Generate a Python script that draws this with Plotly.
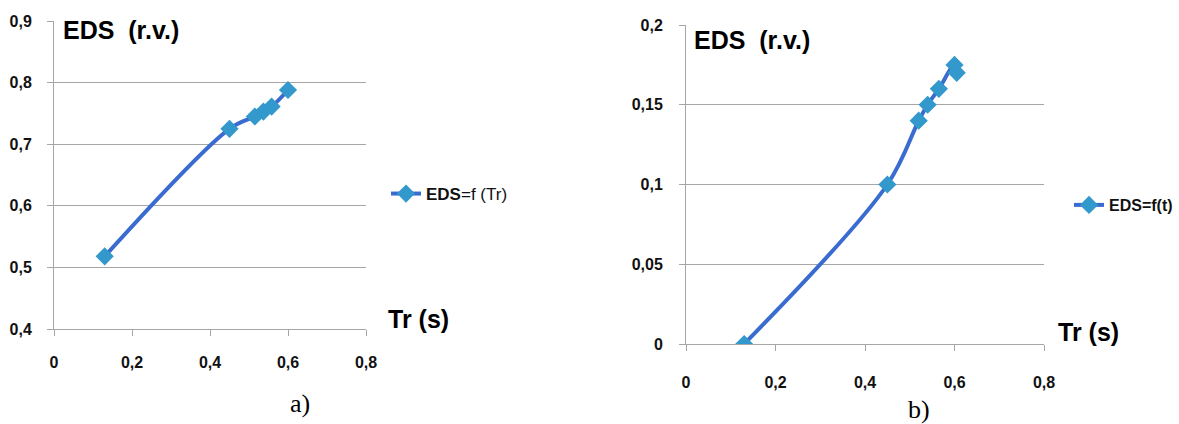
import plotly.graph_objects as go

# --- data -------------------------------------------------------------
tr_a = [0.13, 0.45, 0.515, 0.537, 0.558, 0.60]
eds_a = [0.518, 0.725, 0.745, 0.753, 0.761, 0.788]

tr_b = [0.13, 0.45, 0.52, 0.54, 0.565, 0.60, 0.605]
eds_b = [0.0, 0.10, 0.14, 0.15, 0.16, 0.175, 0.17]

x_ticks = [0, 0.2, 0.4, 0.6, 0.8]
x_labels = ["0", "0,2", "0,4", "0,6", "0,8"]
y_ticks_a = [0.4, 0.5, 0.6, 0.7, 0.8, 0.9]
y_labels_a = ["0,4", "0,5", "0,6", "0,7", "0,8", "0,9"]
y_ticks_b = [0, 0.05, 0.1, 0.15, 0.2]
y_labels_b = ["0", "0,05", "0,1", "0,15", "0,2"]

# --- styling ----------------------------------------------------------
W, H = 1179, 424
LINE = "#3A6BD0"
MARK = "#3399CC"
GRID = "#A6A6A6"
SANS = "Liberation Sans"
SERIF = "Liberation Serif"
TICKFONT = dict(family=SANS, size=16, color="#111111", weight="bold")


def px(x):
    return x / W


def py(y):
    return 1 - y / H


fig = go.Figure()

fig.add_trace(go.Scatter(
    x=tr_a, y=eds_a, mode="lines+markers", name="<b>EDS</b>=f (Tr)",
    line=dict(color=LINE, width=4, shape="spline"),
    marker=dict(symbol="diamond", size=14, color=MARK),
    xaxis="x", yaxis="y", legend="legend",
))
fig.add_trace(go.Scatter(
    x=tr_b, y=eds_b, mode="lines+markers", name="<b>EDS=f(t)</b>",
    line=dict(color=LINE, width=4, shape="spline"),
    marker=dict(symbol="diamond", size=14, color=MARK),
    xaxis="x2", yaxis="y2", legend="legend2",
))

axis_common = dict(
    showline=True, linecolor=GRID, linewidth=1,
    ticks="outside", ticklen=6, tickcolor=GRID,
    zeroline=False, tickfont=TICKFONT, automargin=False,
)

fig.update_layout(
    template="none",
    width=W, height=H,
    margin=dict(l=0, r=0, t=0, b=0, pad=0),
    paper_bgcolor="white", plot_bgcolor="white",
    xaxis=dict(domain=[px(54), px(366)], range=[0, 0.8], anchor="y",
               tickvals=x_ticks, ticktext=x_labels, showgrid=False,
               ticklabelstandoff=13, **axis_common),
    yaxis=dict(domain=[py(329), py(21)], range=[0.4, 0.9], anchor="x",
               tickvals=y_ticks_a, ticktext=y_labels_a, showgrid=True,
               gridcolor=GRID, gridwidth=1, ticklabelstandoff=12,
               **axis_common),
    xaxis2=dict(domain=[px(686), px(1044)], range=[0, 0.8], anchor="y2",
                tickvals=x_ticks, ticktext=x_labels, showgrid=False,
                ticklabelstandoff=18, **axis_common),
    yaxis2=dict(domain=[py(344), py(25)], range=[0, 0.2], anchor="x2",
                tickvals=y_ticks_b, ticktext=y_labels_b, showgrid=True,
                gridcolor=GRID, gridwidth=1, ticklabelstandoff=13,
                **axis_common),
    legend=dict(x=px(386), y=py(194), xanchor="left", yanchor="middle",
                font=dict(family=SANS, size=17, color="#111111"),
                bgcolor="rgba(0,0,0,0)", itemwidth=30),
    legend2=dict(x=px(1069), y=py(205), xanchor="left", yanchor="middle",
                 font=dict(family=SANS, size=16, color="#111111"),
                 bgcolor="rgba(0,0,0,0)", itemwidth=30),
    showlegend=True,
)

annotations = [
    # value-axis titles, with a white box over the top gridline
    dict(text="<b>EDS\u00a0 (r.v.)</b>", x=px(55), y=py(30), xanchor="left",
         yanchor="middle", font=dict(family=SANS, size=25, color="black"),
         bgcolor="white", borderpad=7),
    dict(text="<b>EDS\u00a0 (r.v.)</b>", x=px(686), y=py(40), xanchor="left",
         yanchor="middle", font=dict(family=SANS, size=25, color="black"),
         bgcolor="white", borderpad=7),
    # time-axis titles
    dict(text="<b>Tr (s)</b>", x=px(386), y=py(319), xanchor="left",
         yanchor="middle", font=dict(family=SANS, size=25, color="black")),
    dict(text="<b>Tr (s)</b>", x=px(1056), y=py(332), xanchor="left",
         yanchor="middle", font=dict(family=SANS, size=25, color="black")),
    # panel captions
    dict(text="a)", x=px(300), y=py(403), xanchor="center", yanchor="middle",
         font=dict(family=SERIF, size=26, color="black")),
    dict(text="b)", x=px(919), y=py(409), xanchor="center", yanchor="middle",
         font=dict(family=SERIF, size=26, color="black")),
]
for a in annotations:
    a.update(xref="paper", yref="paper", showarrow=False)
fig.update_layout(annotations=annotations)

fig.write_html("out.html")
